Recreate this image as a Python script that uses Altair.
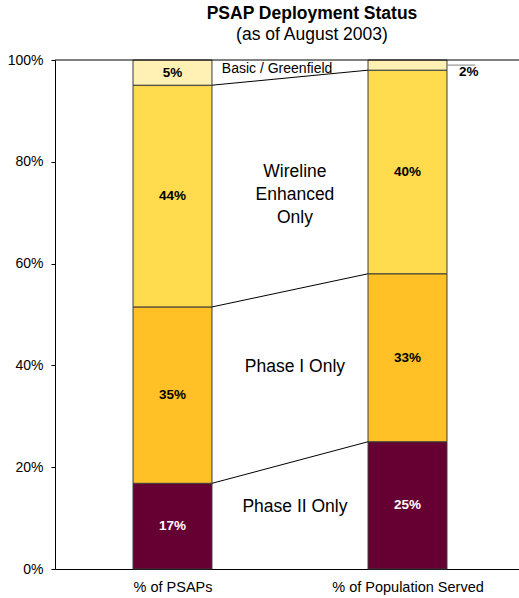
import json
import altair as alt
import pandas as pd

# ---- data ----
categories = ["% of PSAPs", "% of Population Served"]
series = ["Phase II Only", "Phase I Only", "Wireline Enhanced Only", "Basic / Greenfield"]
psap_values = [17, 35, 44, 5]
population_values = [25, 33, 40, 2]
colors = ["#660033", "#FFC125", "#FFDB4D", "#FFF0B3"]

# series names written between the two columns (lines of text)
series_label_lines = [["Phase II Only"], ["Phase I Only"], ["Wireline", "Enhanced", "Only"], ["Basic / Greenfield"]]

FONT = "Liberation Sans"
HALF = 0.168          # half bar width in x units (one unit per column)
SMALL = 3             # segments below this get their label outside the bar

rows = []
for ci, (cat, vals) in enumerate(zip(categories, [psap_values, population_values])):
    for si, (s, v) in enumerate(zip(series, vals)):
        rows.append({"category": cat, "idx": ci, "series": s, "order": si, "value": v})
df = pd.DataFrame(rows)

# cumulative (100%-stacked) tops of each series, for the connecting lines
def tops(vals):
    total = sum(vals)
    acc, out = 0, []
    for v in vals:
        acc += v
        out.append(acc / total)
    return out

link_df = pd.DataFrame({
    "series": series[:-1],
    "y_left": tops(psap_values)[:-1],
    "y_right": tops(population_values)[:-1],
})
link_df["x_left"] = 0.5 + HALF
link_df["x_right"] = 1.5 - HALF

# placement of the series names in the gap between the columns
# (y is the position of the first text line)
name_df = pd.DataFrame({
    "text": ["|".join(l) for l in series_label_lines],
    "x": [1.021, 1.021, 1.021, 0.945],
    "y": [0.122, 0.397, 0.780, 0.982],
    "size": [17.5, 17.5, 17.5, 14],
})

frame_df = pd.DataFrame({"x_start": [0.0], "x_end": [2.0], "y_top": [1.0]})

x_scale = alt.Scale(domain=[0, 2], range=[0, 470], nice=False, zero=False)
y_scale = alt.Scale(domain=[0, 1], nice=False)
label_expr = f"{json.dumps(categories)}[floor(datum.value)]"
x_axis = alt.Axis(
    values=[0.5, 1.5], labelExpr=label_expr, title=None,
    ticks=False, tickSize=0, labelPadding=11, domainColor="black", domainWidth=1,
    labelFontSize=14.5, labelColor="black", labelFont=FONT, grid=False,
)
y_axis = alt.Axis(
    values=[0, 0.2, 0.4, 0.6, 0.8, 1.0], format=".0%", title=None,
    tickSize=4, tickColor="black", labelPadding=8, domainColor="black", domainWidth=1,
    labelFontSize=14, labelColor="black", labelFont=FONT, grid=False,
)

base = alt.Chart(df).transform_stack(
    stack="value",
    groupby=["category"],
    as_=["y0", "y1"],
    sort=[alt.SortField("order")],
    offset="normalize",
).transform_calculate(
    x0=f"datum.idx + 0.5 - {HALF}",
    x1=f"datum.idx + 0.5 + {HALF}",
    mid_x="datum.idx + 0.5",
    mid="(datum.y0 + datum.y1) / 2",
    label="datum.value + '%'",
)

bars = base.mark_bar(stroke="#3a3a3a", strokeWidth=1).encode(
    x=alt.X("x0:Q", scale=x_scale, axis=x_axis),
    x2="x1:Q",
    y=alt.Y("y0:Q", scale=y_scale, axis=y_axis),
    y2="y1:Q",
    color=alt.Color("series:N", scale=alt.Scale(domain=series, range=colors), legend=None),
)

inside = base.transform_filter(f"datum.value >= {SMALL}").mark_text(
    font=FONT, fontSize=13.5, fontWeight="bold", baseline="middle"
).encode(
    x=alt.X("mid_x:Q", scale=x_scale, axis=x_axis),
    y=alt.Y("mid:Q", scale=y_scale, axis=y_axis),
    text="label:N",
    color=alt.condition(f"datum.series === '{series[0]}'", alt.value("white"), alt.value("black")),
)

outside_base = base.transform_filter(f"datum.value < {SMALL}").transform_calculate(
    lead_end="datum.x1 + 0.12"
)
leader = outside_base.mark_rule(color="#808080", strokeWidth=1).encode(
    x=alt.X("x1:Q", scale=x_scale, axis=x_axis),
    x2="lead_end:Q",
    y=alt.Y("mid:Q", scale=y_scale, axis=y_axis),
)
outside = outside_base.mark_text(
    font=FONT, fontSize=13.5, fontWeight="bold", align="left", baseline="middle", dx=12, dy=7
).encode(
    x=alt.X("x1:Q", scale=x_scale, axis=x_axis),
    y=alt.Y("mid:Q", scale=y_scale, axis=y_axis),
    text="label:N",
    color=alt.value("black"),
)

links = alt.Chart(link_df).mark_rule(color="black", strokeWidth=1).encode(
    x=alt.X("x_left:Q", scale=x_scale, axis=x_axis),
    x2="x_right:Q",
    y=alt.Y("y_left:Q", scale=y_scale, axis=y_axis),
    y2="y_right:Q",
)

top_line = alt.Chart(frame_df).mark_rule(color="black", strokeWidth=1).encode(
    x=alt.X("x_start:Q", scale=x_scale, axis=x_axis),
    x2="x_end:Q",
    y=alt.Y("y_top:Q", scale=y_scale, axis=y_axis),
)

names = alt.Chart(name_df).mark_text(
    font=FONT, color="black", baseline="middle", align="center", lineBreak="|", lineHeight=23
).encode(
    x=alt.X("x:Q", scale=x_scale, axis=x_axis),
    y=alt.Y("y:Q", scale=y_scale, axis=y_axis),
    text="text:N",
    size=alt.Size("size:Q", scale=None, legend=None),
)

chart = alt.layer(bars, inside, links, top_line, leader, outside, names).properties(
    width=464,
    height=509,
    background="white",
    title=alt.TitleParams(
        text="PSAP Deployment Status",
        subtitle="(as of August 2003)",
        font=FONT, fontSize=17.5, fontWeight="bold", color="black",
        subtitleFont=FONT, subtitleFontSize=17.5, subtitleColor="black",
        anchor="middle", dx=25, offset=10, subtitlePadding=3,
    ),
    autosize=alt.AutoSizeParams(type="none"),
    padding={"left": 55, "top": 60, "right": 0, "bottom": 29},
).configure_view(stroke=None)

chart.save("out.html", embed_options={"renderer": "svg", "actions": False})
